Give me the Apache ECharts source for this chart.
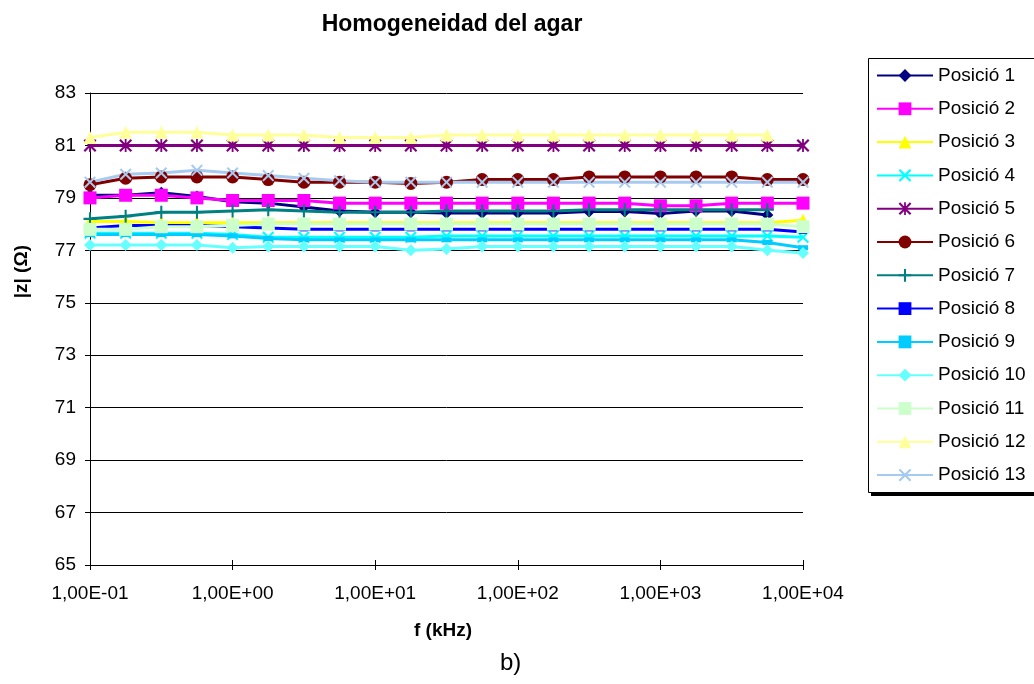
<!DOCTYPE html>
<html>
<head>
<meta charset="utf-8">
<script src="https://cdn.jsdelivr.net/npm/echarts@6/dist/echarts.min.js"></script>
<style>
  html, body { margin: 0; padding: 0; background: #fff; }
  #chart { width: 1034px; height: 684px; }
</style>
</head>
<body>
<div id="chart"></div>
<script>
// ---- data ----
const freqs = [0.1, 0.1778, 0.3162, 0.5623, 1, 1.778, 3.162, 5.623, 10, 17.78, 31.62, 56.23, 100, 177.8, 316.2, 562.3, 1000, 1778, 3162, 5623, 10000];
const seriesNames = ['Posició 1','Posició 2','Posició 3','Posició 4','Posició 5','Posició 6','Posició 7','Posició 8','Posició 9','Posició 10','Posició 11','Posició 12','Posició 13'];
const pos1  = [79.1, 79.1, 79.2, 79.05, 78.85, 78.8, 78.65, 78.5, 78.45, 78.45, 78.42, 78.42, 78.42, 78.42, 78.48, 78.48, 78.4, 78.5, 78.5, 78.35];
const pos2  = [79.0, 79.1, 79.1, 79.0, 78.9, 78.9, 78.9, 78.8, 78.8, 78.8, 78.8, 78.8, 78.8, 78.8, 78.8, 78.8, 78.7, 78.7, 78.8, 78.8, 78.8];
const pos3  = [78.1, 78.1, 78.05, 78.05, 78.05, 78.05, 78.05, 78.05, 78.05, 78.05, 78.05, 78.05, 78.05, 78.05, 78.05, 78.05, 78.05, 78.05, 78.05, 78.05, 78.15];
const pos4  = [77.65, 77.65, 77.65, 77.65, 77.6, 77.5, 77.5, 77.5, 77.5, 77.5, 77.55, 77.55, 77.55, 77.55, 77.55, 77.55, 77.55, 77.55, 77.55, 77.55, 77.5];
const pos5  = [81.0, 81.0, 81.0, 81.0, 81.0, 81.0, 81.0, 81.0, 81.0, 81.0, 81.0, 81.0, 81.0, 81.0, 81.0, 81.0, 81.0, 81.0, 81.0, 81.0, 81.0];
const pos6  = [79.5, 79.75, 79.8, 79.8, 79.8, 79.7, 79.6, 79.6, 79.6, 79.55, 79.6, 79.7, 79.7, 79.7, 79.8, 79.8, 79.8, 79.8, 79.8, 79.7, 79.7];
const pos7  = [78.2, 78.3, 78.45, 78.45, 78.5, 78.55, 78.5, 78.45, 78.45, 78.45, 78.5, 78.5, 78.5, 78.5, 78.55, 78.55, 78.55, 78.55, 78.55, 78.55];
const pos8  = [77.85, 77.95, 77.95, 77.95, 77.9, 77.85, 77.8, 77.8, 77.8, 77.8, 77.8, 77.8, 77.8, 77.8, 77.8, 77.8, 77.8, 77.8, 77.8, 77.8, 77.7];
const pos9  = [77.6, 77.6, 77.6, 77.6, 77.55, 77.45, 77.4, 77.4, 77.4, 77.4, 77.4, 77.4, 77.4, 77.4, 77.4, 77.4, 77.4, 77.4, 77.4, 77.3, 77.1];
const pos10 = [77.2, 77.2, 77.2, 77.2, 77.1, 77.15, 77.15, 77.15, 77.15, 77.0, 77.05, 77.15, 77.15, 77.15, 77.15, 77.15, 77.15, 77.15, 77.15, 77.0, 76.9];
const pos11 = [77.8, 77.8, 77.9, 77.9, 77.95, 78.0, 78.0, 78.0, 78.0, 78.0, 78.0, 78.0, 78.0, 78.0, 78.0, 78.0, 78.0, 78.0, 78.0, 78.0, 77.9];
const pos12 = [81.3, 81.5, 81.5, 81.5, 81.4, 81.4, 81.4, 81.3, 81.3, 81.3, 81.4, 81.4, 81.4, 81.4, 81.4, 81.4, 81.4, 81.4, 81.4, 81.4];
const pos13 = [79.6, 79.9, 79.95, 80.05, 79.95, 79.85, 79.75, 79.65, 79.6, 79.6, 79.6, 79.6, 79.6, 79.6, 79.6, 79.6, 79.6, 79.6, 79.6, 79.6, 79.6];
const xTickLabels = ['1,00E-01', '1,00E+00', '1,00E+01', '1,00E+02', '1,00E+03', '1,00E+04'];
const yTicks = { min: 65, max: 83, step: 2 };

// ---- styles ----
const FONT = '"Liberation Sans", Arial, sans-serif';
const X_PATH = 'path://M0,1.2L1.2,0L5,3.8L8.8,0L10,1.2L6.2,5L10,8.8L8.8,10L5,6.2L1.2,10L0,8.8L3.8,5Z';
const AST_PATH = 'path://M0,1.2L1.2,0L5,3.8L8.8,0L10,1.2L6.2,5L10,8.8L8.8,10L5,6.2L1.2,10L0,8.8L3.8,5Z M4.3,0H5.7V10H4.3Z';
const PLUS_PATH = 'path://M4.2,0H5.8V4.2H10V5.8H5.8V10H4.2V5.8H0V4.2H4.2Z';
const styles = [
  { color: '#000080', symbol: 'diamond', size: 12 },
  { color: '#FF00FF', symbol: 'rect', size: 13 },
  { color: '#FFFF00', symbol: 'triangle', size: 13 },
  { color: '#00FFFF', symbol: X_PATH, size: 12 },
  { color: '#800080', symbol: AST_PATH, size: 13 },
  { color: '#800000', symbol: 'circle', size: 13 },
  { color: '#008080', symbol: PLUS_PATH, size: 13 },
  { color: '#0000FF', symbol: 'rect', size: [8, 4] },
  { color: '#00CCFF', symbol: 'rect', size: [10, 5] },
  { color: '#66FFFF', symbol: 'diamond', size: 12 },
  { color: '#CCFFCC', symbol: 'rect', size: 13 },
  { color: '#FFFF99', symbol: 'triangle', size: 13 },
  { color: '#A6CAF0', symbol: X_PATH, size: 12 }
];
const allValues = [pos1, pos2, pos3, pos4, pos5, pos6, pos7, pos8, pos9, pos10, pos11, pos12, pos13];

const series = allValues.map((vals, k) => ({
  name: seriesNames[k],
  type: 'line',
  xAxisIndex: 0,
  data: vals.map((v, i) => [freqs[i], v]),
  symbol: styles[k].symbol,
  symbolSize: styles[k].size,
  showAllSymbol: true,
  lineStyle: { color: styles[k].color, width: 3 },
  itemStyle: { color: styles[k].color, borderWidth: 0 },
  emphasis: { disabled: true },
  animation: false
}));

const chart = echarts.init(document.getElementById('chart'), null, { renderer: 'canvas' });
chart.setOption({
  backgroundColor: '#ffffff',
  animation: false,
  title: {
    text: 'Homogeneidad del agar',
    left: 447, top: 8, textAlign: 'center',
    textStyle: { fontFamily: FONT, fontSize: 23, fontWeight: 'bold', color: '#000' }
  },
  grid: { left: 90, right: 231, top: 93, bottom: 119, containLabel: false },
  xAxis: [{
    type: 'log', logBase: 10, min: 0.1, max: 10000, position: 'bottom',
    axisLine: { show: true, lineStyle: { color: '#000', width: 1 } },
    axisTick: { show: true, length: 5, lineStyle: { color: '#000' } },
    minorTick: { show: false },
    splitLine: { show: false },
    axisLabel: {
      margin: 19, fontFamily: FONT, fontSize: 19, color: '#000',
      formatter: v => xTickLabels[Math.round(Math.log10(v)) + 1]
    }
  }, {
    type: 'log', logBase: 10, min: 0.1, max: 10000, position: 'bottom',
    axisLine: { show: false },
    axisTick: { show: true, inside: true, length: 5, lineStyle: { color: '#000' } },
    splitLine: { show: false },
    axisLabel: { show: false }
  }],
  yAxis: {
    type: 'value', min: yTicks.min, max: yTicks.max, interval: yTicks.step,
    axisLine: { show: true, lineStyle: { color: '#000', width: 1 } },
    axisTick: { show: true, length: 5, lineStyle: { color: '#000' } },
    splitLine: { show: true, lineStyle: { color: '#000', width: 1 } },
    axisLabel: { margin: 14, fontFamily: FONT, fontSize: 19, color: '#000' }
  },
  legend: {
    orient: 'vertical', left: 868, top: 58,
    padding: [8, 14, 8, 8],
    itemWidth: 56, itemHeight: 16, itemGap: 14.3,
    textStyle: { fontFamily: FONT, fontSize: 19, color: '#000', lineHeight: 19 },
    data: seriesNames,
    selectedMode: false,
    z: 10
  },
  graphic: [
    { type: 'rect', z: 1, shape: { x: 871, y: 61, width: 180, height: 435 },
      style: { fill: '#000' } },
    { type: 'rect', z: 2, shape: { x: 868.5, y: 58.5, width: 180, height: 434 },
      style: { fill: '#fff', stroke: '#000', lineWidth: 1 } },
    { type: 'text', left: 12, top: 245, rotation: Math.PI / 2,
      style: { text: '|z| (Ω)', font: 'bold 19px ' + FONT, fill: '#000' } },
    { type: 'text', left: 414, top: 621,
      style: { text: 'f (kHz)', font: 'bold 19px ' + FONT, fill: '#000' } },
    { type: 'text', left: 500, top: 651,
      style: { text: 'b)', font: '24px ' + FONT, fill: '#000' } }
  ],
  series: series
});
</script>
</body>
</html>
